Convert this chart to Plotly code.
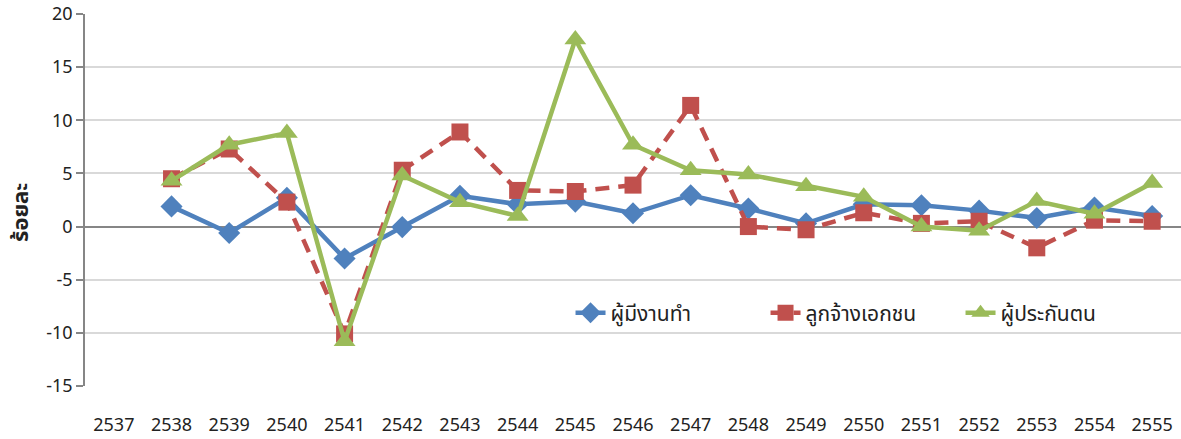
import plotly.graph_objects as go

years = [str(y) for y in range(2537, 2556)]
employed = [None, 1.9, -0.6, 2.7, -3.0, -0.05, 2.9, 2.1, 2.35, 1.25, 2.95, 1.7, 0.3, 2.1, 2.0, 1.5, 0.8, 1.8, 1.0]
private_emp = [None, 4.5, 7.3, 2.3, -10.1, 5.3, 8.9, 3.4, 3.3, 3.9, 11.4, 0.0, -0.3, 1.3, 0.3, 0.5, -2.0, 0.6, 0.5]
insured = [None, 4.3, 7.7, 8.8, -10.8, 4.8, 2.3, 1.0, 17.6, 7.7, 5.3, 4.9, 3.8, 2.8, 0.0, -0.4, 2.4, 1.2, 4.1]
names = ["ผู้มีงานทำ", "ลูกจ้างเอกชน", "ผู้ประกันตน"]
y_ticks = [20, 15, 10, 5, 0, -5, -10, -15]

fig = go.Figure()
fig.add_trace(go.Scatter(
    x=years, y=employed, name=names[0], mode="lines+markers",
    line=dict(color="#4F81BD", width=4.5),
    marker=dict(symbol="diamond", size=17, color="#4F81BD"),
))
fig.add_trace(go.Scatter(
    x=years, y=private_emp, name=names[1], mode="lines+markers",
    line=dict(color="#C0504D", width=4.5, dash="14px,9px"),
    marker=dict(symbol="square", size=17, color="#C0504D"),
))
fig.add_trace(go.Scatter(
    x=years, y=insured, name=names[2], mode="lines+markers",
    line=dict(color="#9BBB59", width=4.5),
    marker=dict(symbol="triangle-up", size=19, color="#9BBB59"),
))

fig.update_layout(
    width=1181, height=439,
    margin=dict(l=85, r=0, t=14, b=53),
    paper_bgcolor="white", plot_bgcolor="white",
    font=dict(family="Noto Sans, Noto Sans Thai, DejaVu Sans", size=18, color="#222222"),
    showlegend=True,
    legend=dict(
        orientation="h", x=0.443, y=0.196, xanchor="left", yanchor="middle",
        font=dict(size=21, color="#222222"), bgcolor="rgba(0,0,0,0)",
        entrywidth=150, tracegroupgap=0,
    ),
    xaxis=dict(
        type="category", range=[-0.5, 18.5], showgrid=False, showline=False,
        ticks="", ticklabelstandoff=26, zeroline=False,
        tickfont=dict(size=18),
    ),
    yaxis=dict(
        range=[-15, 20], tickvals=y_ticks, ticktext=[str(v) for v in y_ticks],
        showgrid=True, gridcolor="#D9D9D9", gridwidth=1.5,
        zeroline=True, zerolinecolor="#868686", zerolinewidth=1.5,
        showline=True, linecolor="#868686", linewidth=1.5,
        ticks="outside", ticklen=7, tickcolor="#868686", tickwidth=1.5,
        tickfont=dict(size=18), ticklabeloverflow="allow",
    ),
    annotations=[dict(
        text="<b>ร้อยละ</b>", xref="paper", yref="paper", x=0, xshift=-66, y=0.465,
        textangle=-90, showarrow=False, font=dict(size=22, color="#222222"),
        xanchor="center", yanchor="middle",
    )],
)

fig.write_html(
    "out.html",
    config={"displayModeBar": False},
    post_script="document.body.style.margin='0px';document.body.style.overflow='hidden';",
)
